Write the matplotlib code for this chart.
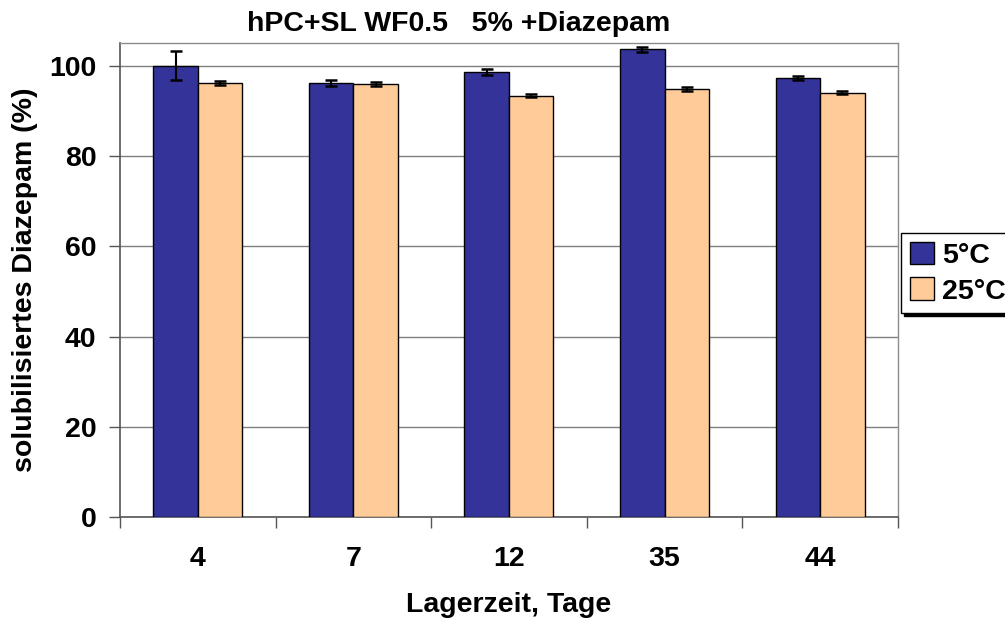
import matplotlib

matplotlib.use("Agg")

import matplotlib.pyplot as plt
import numpy as np

plt.rcParams.update(
    {
        "font.family": ["Liberation Sans", "DejaVu Sans"],
        "font.weight": "bold",
        "axes.unicode_minus": False,
    }
)

# Lagerzeit in Tagen und solubilisiertes Diazepam (%)
days = ["4", "7", "12", "35", "44"]
temp_labels = ["5°C", "25°C"]
values_5c = [100.0, 96.2, 98.5, 103.6, 97.2]
errors_5c = [3.2, 0.7, 0.7, 0.6, 0.4]
values_25c = [96.1, 95.9, 93.3, 94.8, 94.0]
errors_25c = [0.4, 0.4, 0.3, 0.4, 0.4]
y_ticks = [0, 20, 40, 60, 80, 100]

BLUE = "#333399"
ORANGE = "#FFCC99"
FONT_SIZE = 20.5

fig = plt.figure(figsize=(10.05, 6.21), dpi=100, facecolor="white")
ax = fig.add_axes([0.1194, 0.167, 0.7741, 0.7638])

x = np.arange(len(days))
width = 0.286

err_kw = dict(ecolor="black", elinewidth=1.5, capsize=4, capthick=1.8)
ax.bar(x - width / 2, values_5c, width, yerr=errors_5c, color=BLUE,
       edgecolor="black", linewidth=1.0, label=temp_labels[0],
       error_kw=err_kw, zorder=3)
ax.bar(x + width / 2, values_25c, width, yerr=errors_25c, color=ORANGE,
       edgecolor="black", linewidth=1.0, label=temp_labels[1],
       error_kw=err_kw, zorder=3)

ax.set_xlim(-0.5, len(days) - 0.5)
ax.set_ylim(0, 105)
ax.set_yticks(y_ticks)
ax.set_yticklabels([str(v) for v in y_ticks], fontsize=FONT_SIZE, fontweight="bold")
ax.yaxis.grid(True, color="#7f7f7f", linewidth=1.0, zorder=0)
ax.set_axisbelow(True)

# Teilstriche an den Kategoriegrenzen, Beschriftung in der Mitte
ax.set_xticks(np.arange(-0.5, len(days)), minor=False)
ax.set_xticklabels([])
ax.set_xticks(x, minor=True)
ax.set_xticklabels(days, minor=True, fontsize=FONT_SIZE, fontweight="bold")
ax.tick_params(axis="x", which="major", direction="out", length=8,
               width=1.0, color="#555555")
ax.tick_params(axis="x", which="minor", length=0, pad=21)
ax.tick_params(axis="y", direction="out", length=8, width=1.0,
               color="#555555", pad=9)

for side in ["left", "bottom"]:
    ax.spines[side].set_color("#555555")
    ax.spines[side].set_linewidth(1.2)
for side in ["top", "right"]:
    ax.spines[side].set_color("#8c8c8c")
    ax.spines[side].set_linewidth(1.0)

ax.set_xlabel("Lagerzeit, Tage", fontsize=FONT_SIZE, fontweight="bold", labelpad=14)
ax.set_ylabel("solubilisiertes Diazepam (%)", fontsize=FONT_SIZE,
              fontweight="bold", labelpad=8)

fig.text(0.456, 0.962, "hPC+SL WF0.5   5% +Diazepam", ha="center", va="center",
         fontsize=FONT_SIZE, fontweight="bold")

leg = ax.legend(
    loc="upper left",
    bbox_to_anchor=(0.8965, 0.6248),
    bbox_transform=fig.transFigure,
    borderaxespad=0,
    fancybox=False,
    shadow={"color": "black", "alpha": 1.0},
    edgecolor="black",
    handlelength=0.85,
    handleheight=0.85,
    handletextpad=0.3,
    labelspacing=0.3,
    borderpad=0.3,
    prop={"weight": "bold", "size": FONT_SIZE},
)
leg.get_frame().set_linewidth(1.0)
for handle in leg.legend_handles:
    handle.set_edgecolor("black")
    handle.set_linewidth(1.0)

fig.savefig("out.png", dpi=100, facecolor="white")
